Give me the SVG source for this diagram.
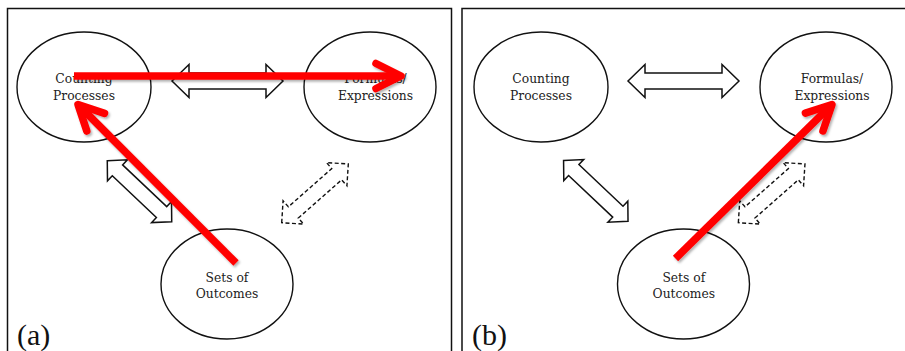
<svg xmlns="http://www.w3.org/2000/svg" width="905" height="351" viewBox="0 0 905 351">
<style>
.frame{fill:none;stroke:#111;stroke-width:1.5}
.node{fill:#fff;stroke:#111;stroke-width:1.4}
.lbl{font-family:"DejaVu Serif","Liberation Serif",serif;font-size:12.3px;fill:#222;text-anchor:middle}
.tag{font-family:"Liberation Serif","Times New Roman",serif;font-size:30px;fill:#111}
.blk{fill:#fff;stroke:#111;stroke-width:1.5;stroke-linejoin:miter}
.dash{fill:#fff;stroke:#111;stroke-width:1.4;stroke-dasharray:4 2.5}
.red{fill:none;stroke:#ff0000;stroke-width:7.5;stroke-linecap:butt;marker-end:url(#chev);filter:url(#sh)}
</style>
<defs>
<filter id="sh" filterUnits="userSpaceOnUse" x="0" y="0" width="905" height="351">
<feDropShadow dx="1.5" dy="2" stdDeviation="0.8" flood-color="#000" flood-opacity="0.3"/>
</filter>
<marker id="chev" markerUnits="userSpaceOnUse" orient="auto" refX="0" refY="0" markerWidth="60" markerHeight="60" viewBox="-40 -30 60 60" overflow="visible">
<path d="M -25 -12.5 L 0 0 L -25 12.5" fill="none" stroke="#ff0000" stroke-width="7.5" stroke-linecap="round" stroke-linejoin="round"/>
</marker>
</defs>

<rect class="frame" x="7.5" y="8.5" width="444" height="360"/>
<path class="frame" d="M462 368 V8.5 H910"/>

<g id="panel-a">
<g id="a-counting">
<ellipse class="node" cx="84" cy="87" rx="67" ry="55"/>
<text class="lbl" x="84" y="83">Counting</text>
<text class="lbl" x="84" y="100">Processes</text>
</g>
<g id="a-formulas">
<ellipse class="node" cx="370" cy="87" rx="66" ry="55"/>
<text class="lbl" x="375.5" y="83">Formulas/</text>
<text class="lbl" x="375.5" y="100">Expressions</text>
</g>
<g id="a-sets">
<ellipse class="node" cx="227" cy="284" rx="66" ry="55"/>
<text class="lbl" x="227" y="281.5">Sets of</text>
<text class="lbl" x="227" y="298">Outcomes</text>
</g>
<g id="a-connectors">
<path class="blk" transform="translate(227.5 81)" d="M -55.5 0 L -38.5 -16.5 L -38.5 -8 L 38.5 -8 L 38.5 -16.5 L 55.5 0 L 38.5 16.5 L 38.5 8 L -38.5 8 L -38.5 16.5 Z"/>
<path class="blk" transform="translate(139.5 191.2) rotate(43.4)" d="M -44.35 0 L -30.35 -14.5 L -30.35 -7.5 L 30.35 -7.5 L 30.35 -14.5 L 44.35 0 L 30.35 14.5 L 30.35 7.5 L -30.35 7.5 L -30.35 14.5 Z"/>
<path class="dash" transform="translate(315 193.35) rotate(-41.4)" d="M -44.4 0 L -28.9 -15.5 L -28.9 -7.5 L 28.9 -7.5 L 28.9 -15.5 L 44.4 0 L 28.9 15.5 L 28.9 7.5 L -28.9 7.5 L -28.9 15.5 Z"/>
<line class="red" x1="74" y1="76" x2="401" y2="76"/>
<line class="red" x1="236" y1="263" x2="78" y2="104.5"/>
</g>
<text class="tag" x="17" y="345">(a)</text>
</g>

<g id="panel-b">
<g id="b-counting">
<ellipse class="node" cx="541" cy="87" rx="67" ry="55"/>
<text class="lbl" x="541" y="83">Counting</text>
<text class="lbl" x="541" y="100">Processes</text>
</g>
<g id="b-formulas">
<ellipse class="node" cx="826" cy="87" rx="66" ry="55"/>
<text class="lbl" x="832" y="83">Formulas/</text>
<text class="lbl" x="832" y="100">Expressions</text>
</g>
<g id="b-sets">
<ellipse class="node" cx="683.5" cy="284" rx="66" ry="55"/>
<text class="lbl" x="683.8" y="281.5">Sets of</text>
<text class="lbl" x="683.8" y="298">Outcomes</text>
</g>
<g id="b-connectors">
<path class="blk" transform="translate(683.5 81)" d="M -55.5 0 L -38.5 -16.5 L -38.5 -8 L 38.5 -8 L 38.5 -16.5 L 55.5 0 L 38.5 16.5 L 38.5 8 L -38.5 8 L -38.5 16.5 Z"/>
<path class="blk" transform="translate(595.8 190.85) rotate(43.4)" d="M -44.35 0 L -30.35 -14.5 L -30.35 -7.5 L 30.35 -7.5 L 30.35 -14.5 L 44.35 0 L 30.35 14.5 L 30.35 7.5 L -30.35 7.5 L -30.35 14.5 Z"/>
<path class="dash" transform="translate(771.65 193.35) rotate(-41.4)" d="M -44.4 0 L -28.9 -15.5 L -28.9 -7.5 L 28.9 -7.5 L 28.9 -15.5 L 44.4 0 L 28.9 15.5 L 28.9 7.5 L -28.9 7.5 L -28.9 15.5 Z"/>
<line class="red" x1="675.5" y1="258.5" x2="832" y2="104.5"/>
</g>
<text class="tag" x="472" y="345">(b)</text>
</g>
</svg>
